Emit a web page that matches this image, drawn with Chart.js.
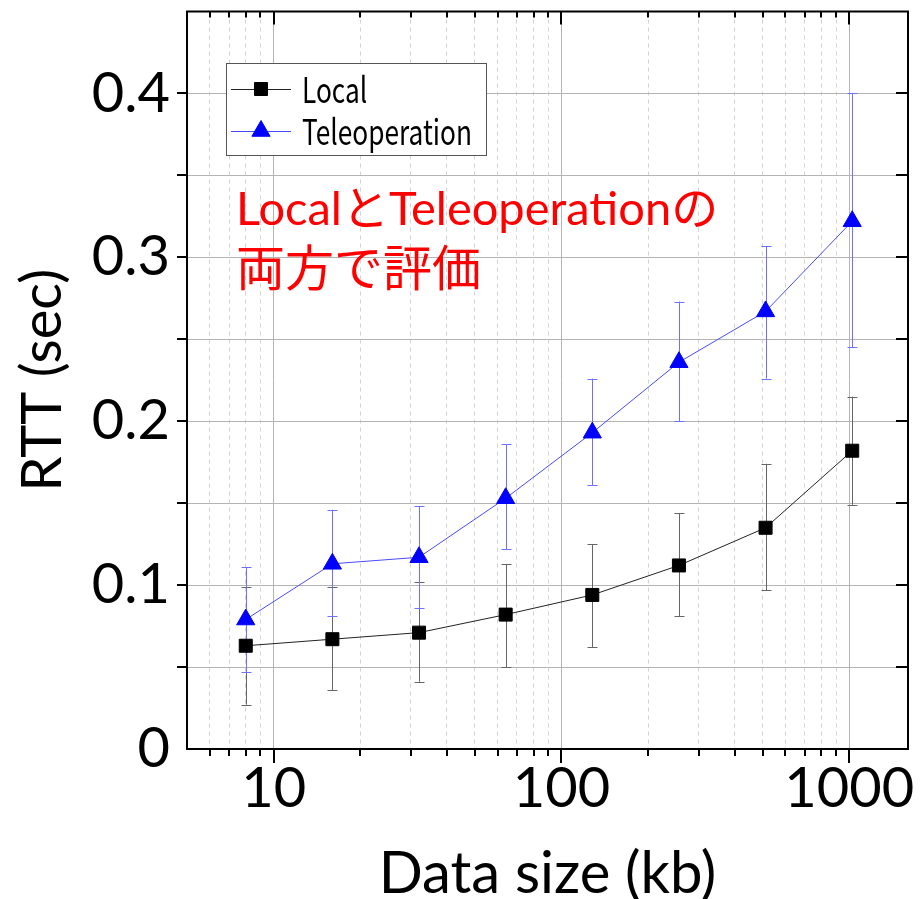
<!DOCTYPE html>
<html>
<head>
<meta charset="utf-8">
<script src="https://cdn.jsdelivr.net/npm/chart.js@4/dist/chart.umd.min.js"></script>
<style>
  html, body { margin: 0; padding: 0; background: #fff; }
  #wrap { position: relative; width: 922px; height: 899px; }
</style>
</head>
<body>
<div id="wrap"><canvas id="myChart" width="922" height="899"></canvas></div>
<script>
// Data size (kb)
const xValues = [8, 16, 32, 64, 128, 256, 512, 1024];
// RTT (sec), mean and error bar ends
const localRtt = [0.063, 0.067, 0.071, 0.082, 0.094, 0.112, 0.135, 0.182];
const localLow = [0.027, 0.036, 0.041, 0.050, 0.062, 0.081, 0.097, 0.149];
const localHigh = [0.099, 0.099, 0.102, 0.113, 0.125, 0.144, 0.174, 0.215];
const teleRtt = [0.079, 0.113, 0.117, 0.153, 0.193, 0.236, 0.267, 0.322];
const teleLow = [0.047, 0.081, 0.086, 0.122, 0.161, 0.200, 0.226, 0.245];
const teleHigh = [0.111, 0.146, 0.148, 0.186, 0.226, 0.273, 0.307, 0.400];
// axis ticks
const xTicks = [5, 6, 7, 8, 9, 10, 20, 30, 40, 50, 60, 70, 80, 90, 100, 200, 300, 400, 500, 600, 700, 800, 900, 1000, 1600];
const xTickLabels = { 10: "10", 100: "100", 1000: "1000" };
const yTickLabels = ["0", "0.1", "0.2", "0.3", "0.4"];
const seriesNames = ["Local", "Teleoperation"];
const note = ["Local\u3068Teleoperation\u306e", "\u4e21\u65b9\u3067\u8a55\u4fa1"];

const pts = (ys) => ys.map((y, i) => ({ x: xValues[i], y: y }));
const isMajorX = (v) => v === 10 || v === 100 || v === 1000;
const isHalfY = (v) => Math.abs(v * 20 - Math.round(v * 20)) < 1e-6;

const data = {
  datasets: [
    {
      label: seriesNames[0],
      data: pts(localRtt),
      low: localLow,
      high: localHigh,
      errColor: "#666666",
      borderColor: "#222222",
      backgroundColor: "#000000",
      pointBorderColor: "#000000",
      pointStyle: "rect",
      pointRadius: 9.2,
      borderWidth: 1,
      pointBorderWidth: 1,
    },
    {
      label: seriesNames[1],
      data: pts(teleRtt),
      low: teleLow,
      high: teleHigh,
      errColor: "#7070ff",
      borderColor: "#4a4aff",
      backgroundColor: "#0000ff",
      pointBorderColor: "#0000ff",
      pointStyle: "triangle",
      pointRadius: 10.5,
      borderWidth: 1,
      pointBorderWidth: 1,
    },
  ],
};

// error bars, drawn under the markers
const errorBars = {
  id: "errorBars",
  beforeDatasetsDraw(chart) {
    const ctx = chart.ctx;
    const xs = chart.scales.x, ys = chart.scales.y;
    chart.data.datasets.forEach((ds) => {
      ctx.save();
      ctx.strokeStyle = ds.errColor;
      ctx.lineWidth = 1;
      ds.data.forEach((p, i) => {
        const px = Math.round(xs.getPixelForValue(p.x)) + 0.5;
        const y1 = ys.getPixelForValue(ds.low[i]);
        const y2 = ys.getPixelForValue(ds.high[i]);
        ctx.beginPath();
        ctx.moveTo(px, y1); ctx.lineTo(px, y2);
        ctx.moveTo(px - 5, Math.round(y1) + 0.5); ctx.lineTo(px + 5, Math.round(y1) + 0.5);
        ctx.moveTo(px - 5, Math.round(y2) + 0.5); ctx.lineTo(px + 5, Math.round(y2) + 0.5);
        ctx.stroke();
      });
      ctx.restore();
    });
  },
};

// box frame, tick marks on all four sides, legend and note
const decorations = {
  id: "decorations",
  afterDraw(chart) {
    const ctx = chart.ctx;
    const a = chart.chartArea;
    const xs = chart.scales.x, ys = chart.scales.y;
    ctx.save();
    ctx.strokeStyle = "#000";
    ctx.lineWidth = 2;
    ctx.beginPath();
    xs.ticks.forEach((t) => {
      if (t.value <= 5 || t.value >= 1600) return;
      const px = Math.round(xs.getPixelForValue(t.value));
      const big = isMajorX(t.value);
      ctx.moveTo(px, a.bottom); ctx.lineTo(px, a.bottom + (big ? 14 : 7));
      ctx.moveTo(px, a.top); ctx.lineTo(px, a.top + (big ? 13 : 6));
    });
    ys.ticks.forEach((t) => {
      if (t.value <= 0 || t.value >= 0.45) return;
      const py = Math.round(ys.getPixelForValue(t.value));
      const big = isHalfY(t.value);
      ctx.moveTo(a.left, py); ctx.lineTo(a.left - (big ? 10 : 5), py);
      ctx.moveTo(a.right, py); ctx.lineTo(a.right - (big ? 12 : 6), py);
    });
    ctx.stroke();
    ctx.strokeRect(a.left, a.top, a.right - a.left, a.bottom - a.top);

    // legend
    const lx = 226, ly = 63, lw = 260, lh = 92;
    ctx.fillStyle = "#fff";
    ctx.fillRect(lx, ly, lw, lh);
    ctx.lineWidth = 1;
    ctx.strokeStyle = "#555";
    ctx.strokeRect(lx + 0.5, ly + 0.5, lw, lh);
    ctx.font = '35px "Noto Sans CJK JP", "Liberation Sans", sans-serif';
    const sx = 170 / ctx.measureText(seriesNames[1]).width;
    chart.data.datasets.forEach((ds, i) => {
      const ry = ly + 26 + i * 42;
      ctx.strokeStyle = ds.borderColor;
      ctx.lineWidth = 1;
      ctx.beginPath();
      ctx.moveTo(lx + 5, ry + 0.5); ctx.lineTo(lx + 65, ry + 0.5);
      ctx.stroke();
      ctx.fillStyle = ds.backgroundColor;
      ctx.strokeStyle = ds.pointBorderColor;
      Chart.helpers.drawPoint(ctx, { pointStyle: ds.pointStyle, radius: ds.pointRadius, borderWidth: 1, rotation: 0 }, lx + 35, ry);
      ctx.fillStyle = "#000";
      ctx.textBaseline = "middle";
      ctx.textAlign = "left";
      ctx.save();
      ctx.translate(lx + 76, ry + 1);
      ctx.scale(sx, 1);
      ctx.fillText(ds.label, 0, 0);
      ctx.restore();
    });

    // red note
    ctx.fillStyle = "#ff0000";
    ctx.textBaseline = "alphabetic";
    ctx.font = '47px Lato, "Noto Sans CJK JP", sans-serif';
    ctx.fillText(note[0], 236, 225);
    ctx.font = '49px "Noto Sans CJK JP", sans-serif';
    ctx.fillText(note[1], 236, 286);
    ctx.restore();
  },
};

const config = {
  type: "line",
  data: data,
  options: {
    responsive: false,
    animation: false,
    layout: { padding: { top: 10, right: 14, left: 0, bottom: 0 } },
    scales: {
      x: {
        type: "logarithmic",
        min: 5,
        max: 1600,
        afterBuildTicks: (scale) => {
          scale.ticks = xTicks.map((v) => ({ value: v, major: isMajorX(v) }));
        },
        afterFit: (scale) => {
          scale.height = 150;
          scale.paddingLeft = 0;
          scale.paddingRight = 0;
        },
        ticks: {
          autoSkip: false,
          maxRotation: 0,
          padding: 6,
          color: "#000",
          font: { family: "Lato", size: 56 },
          callback: (v) => xTickLabels[v] || "",
        },
        grid: {
          drawTicks: false,
          color: (c) => (c.tick && isMajorX(c.tick.value) ? "#b4b4b4" : "#d2d2d2"),
          lineWidth: 1,
        },
        border: {
          display: false,
          dash: (c) => (c.tick && !isMajorX(c.tick.value) ? [4, 4] : []),
        },
        title: {
          display: true,
          text: "Data size (kb)",
          color: "#000",
          font: { family: "Lato", size: 58, lineHeight: 0.85 },
          padding: { top: 0, bottom: 0 },
        },
      },
      y: {
        min: 0,
        max: 0.45,
        afterFit: (scale) => {
          scale.width = 187;
          scale.paddingTop = 0;
          scale.paddingBottom = 0;
        },
        ticks: {
          stepSize: 0.025,
          padding: 17,
          color: "#000",
          font: { family: "Lato", size: 56 },
          callback: (v) => {
            const k = Math.round(v * 10);
            return Math.abs(v * 10 - k) < 1e-6 && k < yTickLabels.length ? yTickLabels[k] : "";
          },
        },
        grid: {
          drawTicks: false,
          color: (c) => (c.tick && isHalfY(c.tick.value) ? "#b4b4b4" : "#d2d2d2"),
          lineWidth: 1,
        },
        border: {
          display: false,
          dash: (c) => (c.tick && !isHalfY(c.tick.value) ? [4, 4] : []),
        },
        title: {
          display: true,
          text: "RTT (sec)",
          color: "#000",
          font: { family: "Lato", size: 56 },
          padding: { top: 9, bottom: 0 },
        },
      },
    },
    plugins: {
      legend: { display: false },
      tooltip: { enabled: false },
    },
  },
  plugins: [errorBars, decorations],
};

myChart = new Chart(document.getElementById("myChart"), config);
</script>
</body>
</html>
